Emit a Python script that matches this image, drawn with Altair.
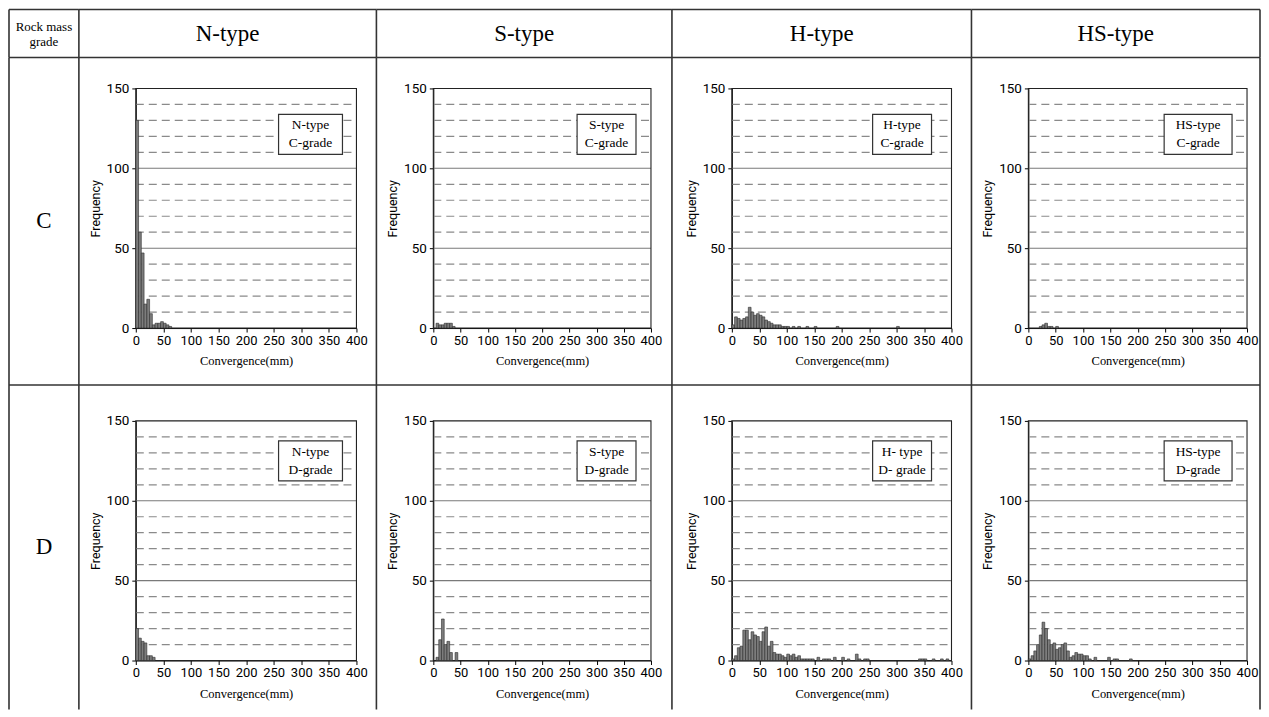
import altair as alt
import pandas as pd

# ---------------- data ----------------
TYPES = ["N-type", "S-type", "H-type", "HS-type"]
GRADES = ["C", "D"]
BIN_WIDTH = 5  # mm
X_TICKS = [0, 50, 100, 150, 200, 250, 300, 350, 400]
Y_TICKS = [0, 50, 100, 150]
GRID_DASHED = [10, 20, 30, 40, 60, 70, 80, 90, 110, 120, 130, 140]
GRID_SOLID = [50, 100]

# frequency per 5 mm bin, starting at 0 mm
N_C = [130, 60, 47, 15, 18, 9, 2, 3, 3, 4, 3, 2, 1]
S_C = [0, 3, 2, 2, 3, 3, 3, 1]
H_C = [2, 7, 6, 5, 6, 7, 13, 10, 8, 9, 8, 7, 5, 4, 3, 2, 2, 2, 1, 1,
       1, 0, 1, 0, 1, 0, 0, 1, 0, 0, 1, 0, 0, 0, 0, 0, 0, 0, 1, 0,
       0, 0, 0, 0, 0, 0, 0, 0, 0, 0, 0, 0, 0, 0, 0, 0, 0, 0, 0, 0, 1]
HS_C = [0, 0, 0, 0, 1, 2, 3, 1, 1, 0, 1]
N_D = [20, 14, 12, 11, 3, 3, 2]
S_D = [0, 2, 13, 26, 10, 12, 5, 0, 5]
H_D = [1, 3, 8, 9, 19, 19, 13, 18, 16, 15, 12, 18, 21, 9, 12, 5, 4, 4, 3, 2,
       4, 3, 4, 2, 3, 1, 1, 1, 1, 1, 0, 2, 0, 1, 1, 1, 0, 2, 0, 0,
       2, 0, 1, 0, 0, 4, 1, 0, 1, 1, 0, 0, 0, 0, 0, 0, 0, 0, 0, 0,
       0, 0, 0, 0, 0, 0, 0, 0, 1, 1, 1, 0, 0, 1, 0, 0, 1, 0, 1]
HS_D = [1, 3, 6, 10, 16, 24, 20, 13, 10, 11, 7, 8, 10, 11, 6, 2, 3, 5, 4, 4,
        3, 3, 1, 0, 2, 0, 0, 0, 0, 2, 0, 1, 1, 0, 0, 0, 0, 1]

COUNTS = {
    ("N-type", "C"): N_C, ("S-type", "C"): S_C, ("H-type", "C"): H_C, ("HS-type", "C"): HS_C,
    ("N-type", "D"): N_D, ("S-type", "D"): S_D, ("H-type", "D"): H_D, ("HS-type", "D"): HS_D,
}
BOX_TEXT = {
    ("N-type", "C"): "N-type\nC-grade", ("S-type", "C"): "S-type\nC-grade",
    ("H-type", "C"): "H-type\nC-grade", ("HS-type", "C"): "HS-type\nC-grade",
    ("N-type", "D"): "N-type\nD-grade", ("S-type", "D"): "S-type\nD-grade",
    ("H-type", "D"): "H- type\nD- grade", ("HS-type", "D"): "HS-type\nD-grade",
}

# ---------------- layout / style ----------------
COL_W = [70, 298, 296, 300, 289]
ROW_H = [48, 328, 325]
PLOT_X = [(57, 278), (57, 275), (60, 280), (57, 276)]   # zero / 400 mm inside cell
PLOT_Y = [(31, 271), (36, 276)]                          # 150 / 0 inside cell
BOX_X = [(200, 264), (201, 260), (201, 260), (193, 261)]
BOX_Y = [(57, 97), (56, 96)]
BOX_LINE = 18
BORDER = "#333333"
SERIF = "Liberation Serif"
SANS = "Roboto"


def borders(w, h, last=False):
    one = pd.DataFrame({"k": [0]})
    layers = [
        alt.Chart(one).mark_rule(color=BORDER, strokeWidth=1.6).encode(
            x=alt.value(0), y=alt.value(0), y2=alt.value(h)),
        alt.Chart(one).mark_rule(color=BORDER, strokeWidth=1.6).encode(
            y=alt.value(0), x=alt.value(0), x2=alt.value(w)),
    ]
    if last:
        layers.append(alt.Chart(one).mark_rule(color=BORDER, strokeWidth=1.6).encode(
            x=alt.value(w), y=alt.value(0), y2=alt.value(h)))
    return layers


def text_cell(label, w, h, size, last=False, line_height=None, y=None):
    kw = {}
    if line_height:
        kw = dict(lineBreak="\n", lineHeight=line_height)
    t = alt.Chart(pd.DataFrame({"t": [label]})).mark_text(
        font=SERIF, fontSize=size, color="black", align="center", baseline="middle", **kw
    ).encode(text="t:N", x=alt.value(w / 2), y=alt.value(h / 2 if y is None else y))
    return alt.layer(*borders(w, h, last), t).properties(width=w, height=h)


def hist_cell(ti, gi):
    typ, grade = TYPES[ti], GRADES[gi]
    w, h = COL_W[ti + 1], ROW_H[gi + 1]
    x0, x1 = PLOT_X[ti]
    ytop, y0 = PLOT_Y[gi]
    counts = COUNTS[(typ, grade)]
    df = pd.DataFrame({"start": [i * BIN_WIDTH for i in range(len(counts))], "count": counts})
    df = df[df["count"] > 0].copy()
    df["end"] = df["start"] + BIN_WIDTH

    xs = alt.Scale(domain=[0, 400], range=[x0, x1], nice=False, zero=False)
    ys = alt.Scale(domain=[0, 150], range=[y0, ytop], nice=False)
    xaxis = alt.Axis(values=X_TICKS, title="Convergence(mm)", offset=-(h - y0), grid=False,
                     labelFont=SANS, labelFontSize=13, labelColor="black", labelPadding=2,
                     labelFlush=False, labelOverlap=False, labelBound=False,
                     tickSize=4, tickColor="black", domainColor="black",
                     titleFont=SERIF, titleFontSize=12.5, titleFontWeight="normal",
                     titleColor="black", titlePadding=8)
    yaxis = alt.Axis(values=Y_TICKS, title="Frequency", offset=-x0, grid=False,
                     labelFont=SANS, labelFontSize=13.5, labelColor="black", labelPadding=3,
                     labelFlush=False, labelOverlap=False, labelBound=False,
                     tickSize=4, tickColor="black", domainColor="black",
                     titleFont=SANS, titleFontSize=12.5, titleFontWeight="normal",
                     titleColor="black", titlePadding=4)

    def xd(v):
        return alt.XDatum(v, type="quantitative", scale=xs, axis=xaxis)

    def yd(v):
        return alt.YDatum(v, type="quantitative", scale=ys, axis=yaxis)

    dashed = alt.Chart(pd.DataFrame({"g": GRID_DASHED})).mark_rule(
        color="#8a8a8a", strokeWidth=1.2, strokeDash=[8, 5]
    ).encode(y=alt.Y("g:Q", scale=ys, axis=yaxis), x=xd(0), x2=alt.X2Datum(400))
    solid = alt.Chart(pd.DataFrame({"g": GRID_SOLID})).mark_rule(
        color="#7a7a7a", strokeWidth=1.1
    ).encode(y=alt.Y("g:Q", scale=ys, axis=yaxis), x=xd(0), x2=alt.X2Datum(400))
    frame = alt.Chart(pd.DataFrame({"k": [0]})).mark_rect(
        filled=False, stroke="#222222", strokeWidth=1.1
    ).encode(x=xd(0), x2=alt.X2Datum(400), y=yd(0), y2=alt.Y2Datum(150))
    bars = alt.Chart(df).mark_rect(
        fill="#7d7d7d", stroke="#2b2b2b", strokeWidth=0.6
    ).encode(
        x=alt.X("start:Q", scale=xs, axis=xaxis), x2="end:Q",
        y=alt.Y("count:Q", scale=ys, axis=yaxis), y2=alt.Y2Datum(0),
    )
    bx0, bx1 = BOX_X[ti]
    by0, by1 = BOX_Y[gi]
    one = pd.DataFrame({"t": [BOX_TEXT[(typ, grade)]]})
    box = alt.Chart(one).mark_rect(fill="white", stroke="#333333", strokeWidth=1.2).encode(
        x=alt.value(bx0), x2=alt.value(bx1), y=alt.value(by0), y2=alt.value(by1))
    box_t = alt.Chart(one).mark_text(
        font=SERIF, fontSize=13.5, color="black", align="center", baseline="middle",
        lineBreak="\n", lineHeight=BOX_LINE
    ).encode(text="t:N", x=alt.value((bx0 + bx1) / 2),
             y=alt.value((by0 + by1) / 2 - BOX_LINE / 2))

    return alt.layer(
        dashed, solid, frame, bars, box, box_t, *borders(w, h, last=(ti == 3))
    ).properties(width=w, height=h)


cells = [text_cell("Rock mass\ngrade", COL_W[0], ROW_H[0], 13, line_height=16, y=17)]
cells += [text_cell(TYPES[i], COL_W[i + 1], ROW_H[0], 23, last=(i == 3)) for i in range(4)]
for gi, g in enumerate(GRADES):
    cells.append(text_cell(g, COL_W[0], ROW_H[gi + 1], 23))
    cells += [hist_cell(ti, gi) for ti in range(4)]

chart = alt.concat(*cells, columns=5, spacing=0, bounds="flush", align="each").properties(
    padding=0, background="white"
).configure_view(strokeWidth=0)

chart.save("out.html", embed_options={"renderer": "svg", "actions": False})
